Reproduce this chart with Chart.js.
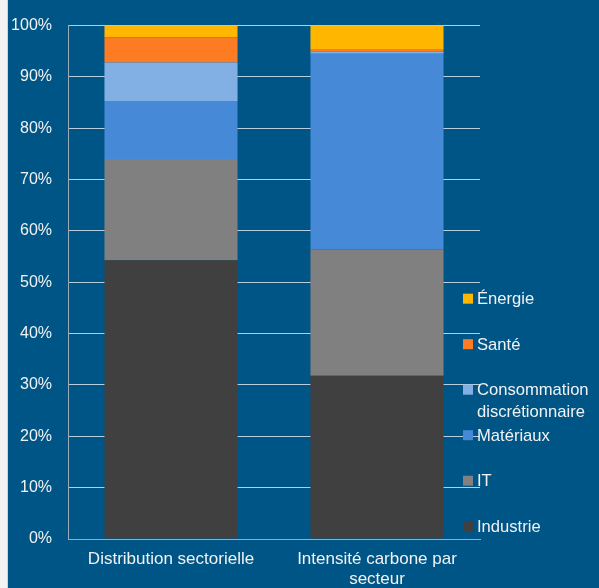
<!DOCTYPE html>
<html><head><meta charset="utf-8">
<script src="https://cdn.jsdelivr.net/npm/chart.js@4"></script>
<style>
html,body{margin:0;padding:0;background:#f3f3f3;width:599px;height:588px;overflow:hidden}
#wrap{position:absolute;left:7px;top:0;width:592px;height:588px;background:#005587;border-left:1px solid #d0d4d8;box-sizing:border-box}
canvas{position:absolute;left:-1px;top:0}
</style></head><body>
<div id="wrap"><canvas id="c" width="592" height="588"></canvas></div>
<script>
// ---- data ----
const categories = ['Distribution sectorielle', ['Intensité carbone par', 'secteur']];
const seriesNames = ['Industrie', 'IT', 'Matériaux', 'Consommation discrétionnaire', 'Santé', 'Énergie'];
const industrie = [54.3, 31.8];
const it = [19.7, 24.6];
const materiaux = [11.3, 38.1];
const consommation = [7.5, 0.4];
const sante = [4.9, 0.4];
const energie = [2.3, 4.7];
const yTickStep = 10;
const yMax = 100;

const colors = ['#404040', '#808080', '#4689d6', '#82b0e4', '#fd7c23', '#ffb600'];
const legendLines = [['Industrie'], ['IT'], ['Matériaux'], ['Consommation', 'discrétionnaire'], ['Santé'], ['Énergie']];
const seriesValues = [industrie, it, materiaux, consommation, sante, energie];

const FONT = '"Liberation Sans", Arial, Helvetica, sans-serif';
const TXT = '#f2f2f2';

const datasets = seriesNames.map((n, i) => ({
  label: n,
  data: seriesValues[i],
  backgroundColor: colors[i],
  borderWidth: 0,
  barPercentage: 0.646,
  categoryPercentage: 1.0,
  legendLines: legendLines[i]
}));

const sideLegend = {
  id: 'sideLegend',
  afterDraw(chart) {
    const ctx = chart.ctx;
    const ds = chart.data.datasets;
    const x0 = chart.chartArea.right - 17;
    const y0 = 298.7, step = 45.5, lh = 21.7;
    ctx.save();
    ctx.font = '16.6px ' + FONT;
    ctx.textBaseline = 'middle';
    ctx.textAlign = 'left';
    for (let k = 0; k < ds.length; k++) {
      const d = ds[ds.length - 1 - k];
      const y = y0 + k * step;
      ctx.fillStyle = d.backgroundColor;
      ctx.fillRect(x0, y - 5, 10, 10);
      ctx.fillStyle = TXT;
      d.legendLines.forEach((t, i) => ctx.fillText(t, x0 + 14, y + i * lh + 1));
    }
    ctx.restore();
  }
};

new Chart(document.getElementById('c'), {
  type: 'bar',
  data: { labels: categories, datasets },
  options: {
    responsive: false,
    animation: false,
    devicePixelRatio: 1,
    layout: { padding: { left: 0, right: 119, top: 22, bottom: 0 } },
    plugins: { legend: { display: false }, tooltip: { enabled: false }, title: { display: false } },
    scales: {
      x: {
        stacked: true,
        grid: { display: false, drawTicks: false },
        border: { color: '#9aabba', width: 1 },
        ticks: { color: TXT, font: { size: 17, family: FONT }, padding: 10, maxRotation: 0, autoSkip: false },
        afterFit(s) { s.height = 49; }
      },
      y: {
        stacked: true,
        min: 0, max: yMax,
        ticks: { stepSize: yTickStep, callback: v => v + '%', color: TXT, font: { size: 16, family: FONT }, padding: 16 },
        grid: { color: 'rgba(205,218,230,0.9)', drawTicks: false, lineWidth: 1 },
        border: { color: '#9aabba', width: 1 },
        afterFit(s) { s.width = 61; }
      }
    }
  },
  plugins: [sideLegend]
});
</script>
</body></html>
